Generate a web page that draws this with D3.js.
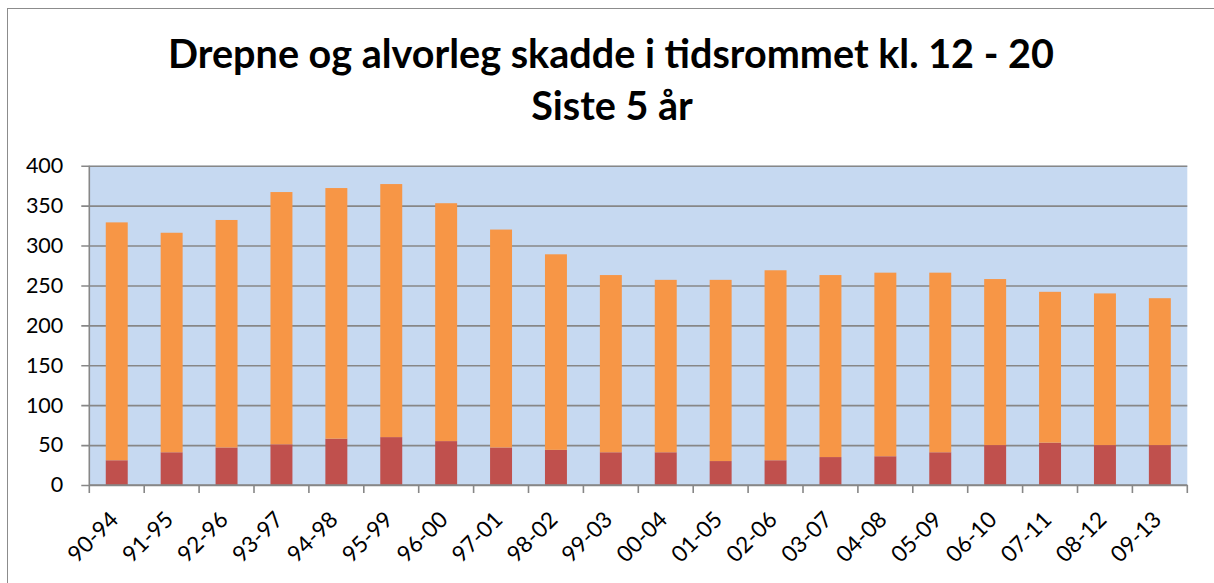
<!DOCTYPE html>
<html>
<head>
<meta charset="utf-8">
<script src="https://cdn.jsdelivr.net/npm/d3@7/dist/d3.min.js"></script>
<style>
  html, body { margin: 0; padding: 0; background: #fff; }
  svg { display: block; font-family: Lato, "Open Sans", sans-serif; }
</style>
</head>
<body>
<svg id="chart" width="1214" height="583"></svg>
<script>
// Five-year rolling periods
const periods = ["90-94","91-95","92-96","93-97","94-98","95-99","96-00","97-01","98-02","99-03",
                 "00-04","01-05","02-06","03-07","04-08","05-09","06-10","07-11","08-12","09-13"];
// Killed (bottom segment)
const killed  = [31, 41, 47, 51, 58, 60, 55, 47, 44, 41, 41, 30, 31, 35, 36, 41, 50, 53, 50, 50];
// Seriously injured (stacked on top)
const injured = [298, 275, 285, 316, 314, 317, 298, 273, 245, 222, 216, 227, 238, 228, 230, 225, 208, 189, 190, 184];
const yTicks = [0, 50, 100, 150, 200, 250, 300, 350, 400];
const titleLines = ["Drepne og alvorleg skadde i tidsrommet kl. 12 - 20", "Siste 5 år"];

const svg = d3.select("#chart");
const plot = { left: 89.3, right: 1187.3, top: 165.7, bottom: 485 };

// Outer chart frame
svg.append("rect").attr("x", 7.5).attr("y", 8.5).attr("width", 1220).attr("height", 600)
  .attr("fill", "#fff").attr("stroke", "#8c8c8c").attr("stroke-width", 1);

// Title
const title = svg.append("text").attr("text-anchor", "middle")
  .attr("font-weight", 700).attr("fill", "#000").attr("font-size", 33);
title.append("tspan").attr("x", 611).attr("y", 68).text(titleLines[0]);
title.append("tspan").attr("x", 612).attr("y", 120).text(titleLines[1]);

const x = d3.scaleBand().domain(periods).range([plot.left, plot.right]).paddingInner(0.6).paddingOuter(0.3);
const xb = d3.scaleBand().domain(periods).range([plot.left, plot.right]);
const y = d3.scaleLinear().domain([0, 400]).range([plot.bottom, plot.top]);

// Plot background
svg.append("rect").attr("x", plot.left).attr("y", plot.top)
  .attr("width", plot.right - plot.left).attr("height", plot.bottom - plot.top)
  .attr("fill", "#C6D9F1");

// Horizontal gridlines with left ticks
const yAxis = d3.axisLeft(y).tickValues(yTicks).tickSize(-(plot.right - plot.left)).tickPadding(0);
const gy = svg.append("g").attr("transform", `translate(${plot.left},0)`).call(yAxis);
gy.select(".domain").remove();
gy.selectAll(".tick line").attr("stroke", "#878787").attr("stroke-width", 1.6).attr("x1", -8);
gy.selectAll(".tick text").attr("x", -26).attr("font-size", 21.5).attr("fill", "#000")
  .attr("font-family", "Lato, sans-serif");

// Stacked bars
const stackData = periods.map((p, i) => ({ period: p, killed: killed[i], injured: injured[i] }));
const series = d3.stack().keys(["killed", "injured"])(stackData);
const colors = { killed: "#C0504D", injured: "#F79646" };
svg.append("g").selectAll("g").data(series).join("g")
  .attr("fill", d => colors[d.key])
  .selectAll("rect").data(d => d).join("rect")
  .attr("x", d => x(d.data.period))
  .attr("width", x.bandwidth())
  .attr("y", d => y(d[1]))
  .attr("height", d => y(d[0]) - y(d[1]));

// Vertical axis line
svg.append("line").attr("x1", plot.left).attr("x2", plot.left)
  .attr("y1", plot.top).attr("y2", plot.bottom)
  .attr("stroke", "#878787").attr("stroke-width", 1.6);

// Category axis with boundary ticks
const gx = svg.append("g");
gx.append("line").attr("x1", plot.left).attr("x2", plot.right)
  .attr("y1", plot.bottom).attr("y2", plot.bottom)
  .attr("stroke", "#878787").attr("stroke-width", 1.6);
const bounds = periods.map(p => xb(p)).concat([plot.right]);
gx.selectAll("line.tk").data(bounds).join("line").attr("class", "tk")
  .attr("x1", d => d).attr("x2", d => d)
  .attr("y1", plot.bottom).attr("y2", plot.bottom + 8)
  .attr("stroke", "#878787").attr("stroke-width", 1.6);

gx.selectAll("text").data(periods).join("text")
  .attr("transform", d => `translate(${xb(d) + xb.bandwidth() / 2 + 3},${plot.bottom + 36}) rotate(-45)`)
  .attr("text-anchor", "end")
  .attr("font-size", 22.5).attr("fill", "#000")
  .text(d => d);

// Fit title line widths
const tspans = title.selectAll("tspan").nodes();
const w0 = tspans[0].getComputedTextLength();
title.attr("font-size", 33 * 886 / w0);
</script>
</body>
</html>
